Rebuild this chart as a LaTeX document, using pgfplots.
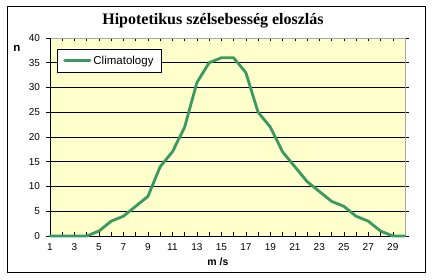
\documentclass[border=0pt]{standalone}
\usepackage{fontspec}
\setmainfont{Liberation Sans}
\newfontfamily\titlefont{Liberation Serif}
\usepackage{pgfplots}
\pgfplotsset{compat=1.18}
\definecolor{bg}{HTML}{FFFFCC}
\definecolor{sgreen}{HTML}{3A9960}
\begin{document}
\begin{tikzpicture}[x=1pt,y=1pt]
\path (0,0) rectangle (432,280);
\draw[black, line width=1pt] (7,7) rectangle (425,273);
\node[font=\titlefont\bfseries\fontsize{16}{17}\selectfont] at (213,259) {Hipotetikus szélsebesség eloszlás};
\node[font=\fontsize{11.5}{12}\selectfont\bfseries] at (17,232) {n};
\node[font=\fontsize{10.5}{11}\selectfont\bfseries] at (218,18) {m /s};
\begin{axis}[
  at={(50pt,44pt)}, anchor=south west,
  scale only axis, width=355pt, height=198pt,
  xmin=1, xmax=30, ymin=0, ymax=40,
  axis background/.style={fill=bg},
  axis line style={gray!70, line width=0.6pt},
  xtick={1,...,30},
  xticklabels={1,,3,,5,,7,,9,,11,,13,,15,,17,,19,,21,,23,,25,,27,,29,},
  ytick={0,5,...,40},
  ymajorgrids, grid style={black, line width=0.6pt},
  x tick style={black, line width=0.5pt}, y tick style={black, line width=0.5pt},
  xtick align=inside, ytick align=outside,
  major tick length=3.5pt,
  tick label style={font=\fontsize{10}{11}\selectfont},
  xticklabel style={yshift=-4pt},
  yticklabel style={xshift=-3pt},
  /pgf/number format/assume math mode=true,
  legend style={at={(0.0197,0.944)}, anchor=north west, draw=black, line width=0.5pt,
    font=\fontsize{11.5}{12}\selectfont, inner xsep=6pt, inner ysep=4.5pt, fill=white},
  legend cell align=left,
  legend image code/.code={\draw[line width=3.2pt, sgreen, line cap=round] (0pt,0pt) -- (25pt,0pt);},
  clip=false,
]
\draw[black, line width=0.7pt] (rel axis cs:0,0) -- (rel axis cs:0,1);
\draw[black, line width=0.7pt] (rel axis cs:0,0) -- (rel axis cs:1,0);
\addplot[sgreen, line width=2.8pt, line join=round, line cap=round] coordinates {
(1,0) (2,0) (3,0) (4,0) (5,1) (6,3) (7,4) (8,6) (9,8) (10,14)
(11,17) (12,22) (13,31) (14,35) (15,36) (16,36) (17,33) (18,25) (19,22) (20,17)
(21,14) (22,11) (23,9) (24,7) (25,6) (26,4) (27,3) (28,1) (29,0) (30,0)
};
\addlegendentry{Climatology}
\end{axis}
\end{tikzpicture}
\end{document}
